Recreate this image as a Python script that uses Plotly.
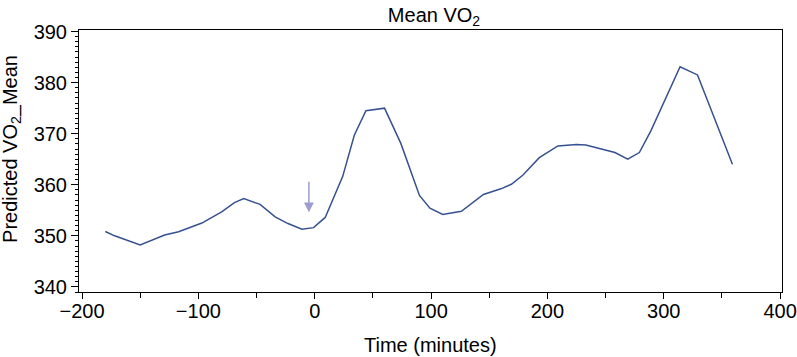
import plotly.graph_objects as go

time_min = [-180, -172, -150, -129, -117, -97, -80, -69, -61, -47, -34, -23, -11, -1,
            9, 24, 34, 44, 60, 74, 90, 99, 110, 126, 145, 160, 169, 179, 193, 209,
            225, 233, 248, 258, 269, 279, 289, 314, 329, 359]
vo2_mean = [350.85, 350.0, 348.2, 350.15, 350.8, 352.5, 354.7, 356.5, 357.3, 356.15,
            353.7, 352.4, 351.3, 351.6, 353.6, 361.6, 369.7, 374.5, 375.0, 368.1,
            357.9, 355.4, 354.2, 354.8, 358.1, 359.2, 360.1, 361.9, 365.3, 367.6,
            367.9, 367.8, 366.9, 366.3, 365.0, 366.3, 370.6, 383.1, 381.5, 364.0]

arrow_x = -5
arrow_tip = 354.6
arrow_tail = 360.9

x_range = [-202.6, 401.6]
y_range = [339.0, 390.3]
x_ticks = [-200, -100, 0, 100, 200, 300, 400]
y_ticks = [340, 350, 360, 370, 380, 390]

FONT = "Liberation Sans, Arial, sans-serif"
FS = 20
W, H = 797, 357

fig = go.Figure()
fig.add_trace(go.Scatter(x=time_min, y=vo2_mean, mode="lines",
                         line=dict(color="#36518f", width=1.5),
                         showlegend=False, hoverinfo="x+y"))

fig.add_annotation(x=arrow_x, y=arrow_tip, ax=arrow_x, ay=arrow_tail,
                   xref="x", yref="y", axref="x", ayref="y",
                   showarrow=True, arrowhead=2, arrowsize=1.3, arrowwidth=1.5,
                   arrowcolor="#9c9ccf", text="")

fig.add_annotation(text="Predicted VO<sub>2</sub>_Mean", xref="paper", yref="paper",
                   x=-0.0953, y=0.546, xanchor="center", yanchor="middle",
                   textangle=-90, showarrow=False,
                   font=dict(family=FONT, size=FS, color="black"))

fig.add_annotation(text="Time (minutes)", xref="paper", yref="paper",
                   x=0.5, y=-0.2023, xanchor="center", yanchor="middle",
                   showarrow=False,
                   font=dict(family=FONT, size=FS, color="black"))

fig.update_layout(
    template="none",
    width=W, height=H,
    margin=dict(l=79, r=15, t=30, b=65, autoexpand=False),
    paper_bgcolor="white", plot_bgcolor="white",
    font=dict(family=FONT, size=FS, color="black"),
    title=dict(text="Mean VO<sub>2</sub>", x=434 / W, xanchor="center",
               y=1 - 15 / H, yanchor="middle", yref="container",
               font=dict(family=FONT, size=FS, color="black")),
    xaxis=dict(range=x_range, tickvals=x_ticks,
               ticktext=[("\u2212" + str(-v)) if v < 0 else str(v) for v in x_ticks],
               ticks="outside", ticklen=6, tickwidth=1, tickcolor="black",
               ticklabelstandoff=-5,
               showline=True, linecolor="black", linewidth=1, mirror=True,
               showgrid=False, zeroline=False, automargin=False,
               minor=dict(dtick=50, tick0=0, ticks="outside", ticklen=5, tickcolor="black"),
               title=dict(text="")),
    yaxis=dict(range=y_range, tickvals=y_ticks,
               ticks="outside", ticklen=7, tickwidth=1, tickcolor="black",
               showline=True, linecolor="black", linewidth=1, mirror=True,
               showgrid=False, zeroline=False, automargin=False,
               minor=dict(dtick=1, tick0=0, ticks="outside", ticklen=3.5, tickcolor="black"),
               title=dict(text="")),
)

fig.write_html("out.html", config={"displayModeBar": False},
               post_script="document.body.style.margin='0';document.body.style.padding='0';")
